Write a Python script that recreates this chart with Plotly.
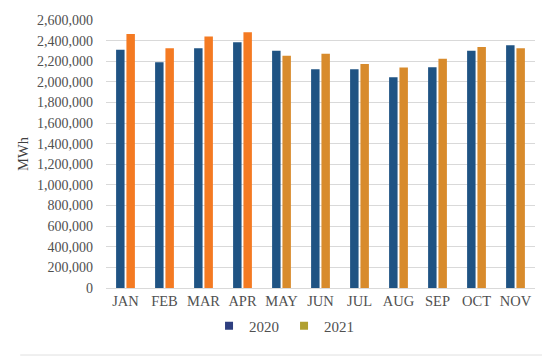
import plotly.graph_objects as go

months = ["JAN", "FEB", "MAR", "APR", "MAY", "JUN", "JUL", "AUG", "SEP", "OCT", "NOV"]
values_2020 = [2311000, 2191000, 2327000, 2385000, 2301000, 2123000, 2123000, 2045000, 2142000, 2301000, 2356000]
values_2021 = [2463000, 2327000, 2440000, 2482000, 2252000, 2272000, 2172000, 2139000, 2223000, 2337000, 2327000]
y_ticks = list(range(0, 2600001, 200000))

color_2020 = "#1f5383"
colors_2021 = ["#f47a22"] * 4 + ["#d88b2c"] * 7
legend_2021 = "#b0a030"

serif = "Liberation Serif"
font = dict(family=serif, size=14, color="#505050")

fig = go.Figure()
fig.add_trace(go.Bar(x=months, y=values_2020, name="2020", showlegend=False,
                     marker=dict(color=color_2020, line=dict(width=0))))
fig.add_trace(go.Bar(x=months, y=values_2021, name="2021", showlegend=False,
                     marker=dict(color=colors_2021, line=dict(width=0))))
# legend entries with small square swatches
fig.add_trace(go.Scatter(x=[None], y=[None], mode="markers", name="2020",
                         marker=dict(symbol="square", size=8, color="#2e3f80")))
fig.add_trace(go.Scatter(x=[None], y=[None], mode="markers", name="2021",
                         marker=dict(symbol="square", size=8, color=legend_2021)))

# page body has an 8px margin, so the figure is sized 542x355 and shifted accordingly
fig.update_layout(
    width=542, height=355,
    margin=dict(l=98, r=15, t=12, b=75),
    paper_bgcolor="white", plot_bgcolor="white",
    font=font,
    barmode="group", bargap=0.47, bargroupgap=0.18,
    showlegend=True,
    legend=dict(orientation="h", x=0.415, xanchor="center", y=-0.142, yanchor="middle",
                font=dict(family=serif, size=15, color="#505050"),
                itemwidth=30, tracegroupgap=0, traceorder="normal"),
    xaxis=dict(showgrid=False, showline=True, linecolor="#d9d9d9", linewidth=1, ticks="",
               tickfont=dict(family=serif, size=14.5, color="#505050"), automargin=False),
    yaxis=dict(range=[0, 2600000], tickvals=y_ticks,
               ticktext=[f"{v:,}" for v in y_ticks],
               showgrid=True, gridcolor="#d9d9d9", gridwidth=1, zeroline=False,
               title=dict(text="MWh", font=dict(family=serif, size=14.5, color="#404040"), standoff=4),
               tickfont=font, automargin=False, ticklabelstandoff=12),
    shapes=[
        dict(type="line", xref="paper", yref="paper", x0=-0.02, x1=1.0, y0=1.053, y1=1.053,
             line=dict(color="#e0e0e0", width=1)),
        dict(type="line", xref="paper", yref="paper", x0=-0.2, x1=1.02, y0=-0.25, y1=-0.25,
             line=dict(color="#e0e0e0", width=1)),
    ],
)

fig.write_html("out.html")
